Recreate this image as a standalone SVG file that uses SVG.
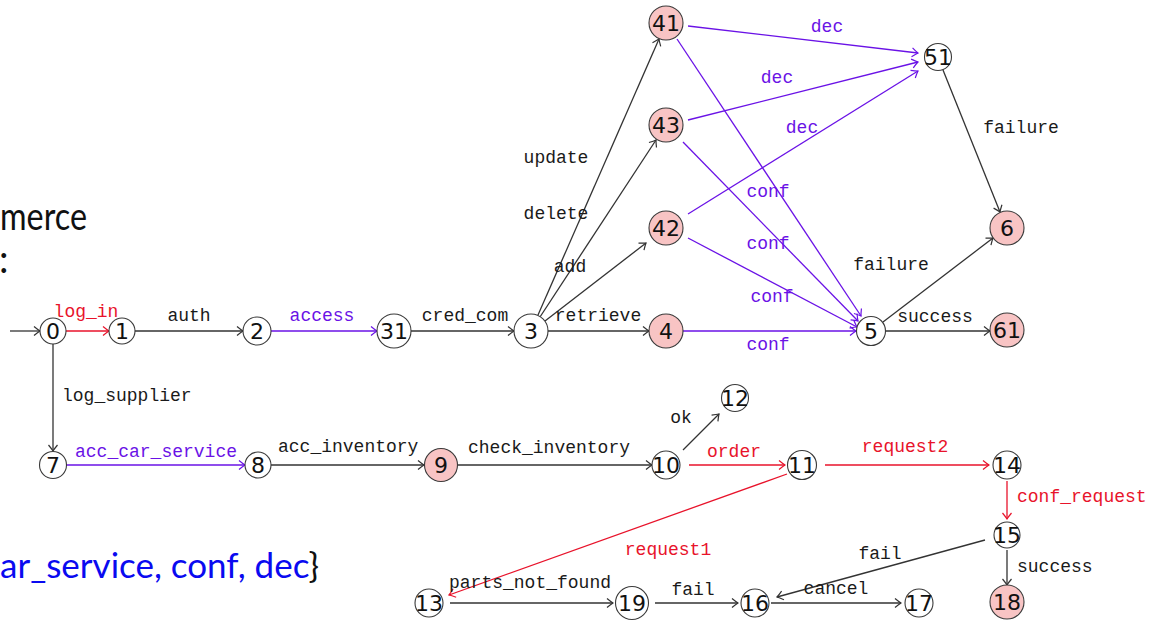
<svg xmlns="http://www.w3.org/2000/svg" width="1151" height="621" viewBox="0 0 1151 621">
<style>
.n{stroke:#3a3a3a;stroke-width:1.1;fill:#fff}
.p{fill:#f8c4c4}
.nt{font-family:"DejaVu Sans",sans-serif;font-size:22px;fill:#111;text-anchor:middle}
.e{fill:none;stroke-width:1.3}
.k{stroke:#333;marker-end:url(#mk)}
.v{stroke:#6a12e6;marker-end:url(#mv)}
.r{stroke:#e8132b;marker-end:url(#mr)}
.l{font-family:"Liberation Mono",monospace;font-size:18px}
.lk{fill:#1a1a1a}
.lv{fill:#6a12e6}
.lr{fill:#e8132b}
.m{text-anchor:middle}
.big{font-family:Lato,"Noto Sans",sans-serif;font-size:38px}
</style>
<defs>
<marker id="mk" viewBox="-7 -6 8 12" refX="0" refY="0" markerWidth="8" markerHeight="12" markerUnits="userSpaceOnUse" orient="auto"><path d="M-6,-4.5 Q-2,-1.2 0,0 Q-2,1.2 -6,4.5" fill="none" stroke="#333" stroke-width="1.2"/></marker>
<marker id="mv" viewBox="-7 -6 8 12" refX="0" refY="0" markerWidth="8" markerHeight="12" markerUnits="userSpaceOnUse" orient="auto"><path d="M-6,-4.5 Q-2,-1.2 0,0 Q-2,1.2 -6,4.5" fill="none" stroke="#6a12e6" stroke-width="1.2"/></marker>
<marker id="mr" viewBox="-7 -6 8 12" refX="0" refY="0" markerWidth="8" markerHeight="12" markerUnits="userSpaceOnUse" orient="auto"><path d="M-6,-4.5 Q-2,-1.2 0,0 Q-2,1.2 -6,4.5" fill="none" stroke="#e8132b" stroke-width="1.2"/></marker>
</defs>
<rect width="1151" height="621" fill="#fff"/>

<g id="side-text">
<text class="big" x="0" y="230" fill="#111" textLength="87" lengthAdjust="spacingAndGlyphs">merce</text>
<text class="big" x="-1" y="273" fill="#111">:</text>
<text class="big" x="0" y="578" style="font-size:35px"><tspan fill="#0a0af0">ar_service, conf, dec</tspan><tspan fill="#111">}</tspan></text>
</g>

<g id="connectors">
<line class="e k" x1="10" y1="331" x2="40" y2="331"/>
<line class="e r" x1="66" y1="331" x2="109" y2="331"/>
<line class="e k" x1="135" y1="331" x2="243" y2="331"/>
<line class="e v" x1="271" y1="331" x2="377" y2="331"/>
<line class="e k" x1="411" y1="331" x2="514" y2="331"/>
<line class="e k" x1="548" y1="331" x2="649" y2="331"/>
<line class="e v" x1="683" y1="331" x2="856" y2="331"/>
<line class="e k" x1="886" y1="331" x2="990" y2="331"/>
<line class="e k" x1="883" y1="322" x2="993" y2="238"/>
<line class="e k" x1="943" y1="70" x2="1000" y2="212"/>
<line class="e k" x1="538" y1="315" x2="659" y2="39"/>
<line class="e k" x1="540" y1="317" x2="656" y2="140"/>
<line class="e k" x1="545" y1="321" x2="646" y2="243"/>
<line class="e v" x1="688" y1="26" x2="918" y2="53"/>
<line class="e v" x1="688" y1="120" x2="918" y2="62"/>
<line class="e v" x1="688" y1="214" x2="918" y2="71"/>
<line class="e v" x1="677" y1="39" x2="861" y2="316"/>
<line class="e v" x1="683" y1="142" x2="858" y2="321"/>
<line class="e v" x1="688" y1="238" x2="857" y2="327"/>
<line class="e k" x1="53" y1="344" x2="53" y2="451"/>
<line class="e v" x1="67" y1="465" x2="245" y2="465"/>
<line class="e k" x1="271" y1="465" x2="424" y2="465"/>
<line class="e k" x1="458" y1="465" x2="652" y2="465"/>
<line class="e k" x1="683" y1="450" x2="719" y2="414"/>
<line class="e r" x1="689" y1="465" x2="785" y2="465"/>
<line class="e r" x1="825" y1="465" x2="989" y2="465"/>
<line class="e r" x1="1007" y1="481" x2="1007" y2="519"/>
<line class="e k" x1="1007" y1="550" x2="1007" y2="585"/>
<line class="e k" x1="985" y1="540" x2="777" y2="597"/>
<line class="e r" x1="787" y1="474" x2="449" y2="595"/>
<line class="e k" x1="450" y1="603" x2="613" y2="603"/>
<line class="e k" x1="655" y1="603" x2="738" y2="603"/>
<line class="e k" x1="771" y1="603" x2="901" y2="603"/>
</g>

<g id="labels">
<text class="l lr m" x="86" y="317">log_in</text>
<text class="l lk m" x="189" y="321">auth</text>
<text class="l lv m" x="322" y="321">access</text>
<text class="l lk m" x="465" y="321">cred_com</text>
<text class="l lk m" x="598" y="321">retrieve</text>
<text class="l lv m" x="768" y="350">conf</text>
<text class="l lv m" x="772" y="302">conf</text>
<text class="l lv m" x="768" y="249">conf</text>
<text class="l lv m" x="768" y="197">conf</text>
<text class="l lk m" x="570" y="272">add</text>
<text class="l lk m" x="556" y="219">delete</text>
<text class="l lk m" x="556" y="163">update</text>
<text class="l lv m" x="827" y="32">dec</text>
<text class="l lv m" x="777" y="83">dec</text>
<text class="l lv m" x="802" y="133">dec</text>
<text class="l lk m" x="1021" y="133">failure</text>
<text class="l lk m" x="891" y="270">failure</text>
<text class="l lk m" x="935" y="322">success</text>
<text class="l lk" x="62" y="401">log_supplier</text>
<text class="l lv" x="75" y="457">acc_car_service</text>
<text class="l lk" x="278" y="452">acc_inventory</text>
<text class="l lk" x="468" y="453">check_inventory</text>
<text class="l lk m" x="681" y="423">ok</text>
<text class="l lr m" x="734" y="457">order</text>
<text class="l lr m" x="905" y="452">request2</text>
<text class="l lr" x="1017" y="502">conf_request</text>
<text class="l lk" x="1017" y="572">success</text>
<text class="l lk m" x="880" y="559">fail</text>
<text class="l lk m" x="836" y="594">cancel</text>
<text class="l lr m" x="668" y="555">request1</text>
<text class="l lk" x="449" y="588">parts_not_found</text>
<text class="l lk m" x="693" y="595">fail</text>
</g>

<g id="n0"><circle class="n" cx="53" cy="331" r="13"/><text class="nt" x="53" y="339">0</text></g>
<g id="n1"><circle class="n" cx="122" cy="331" r="13"/><text class="nt" x="122" y="339">1</text></g>
<g id="n2"><circle class="n" cx="257" cy="331" r="14"/><text class="nt" x="257" y="339">2</text></g>
<g id="n31"><circle class="n" cx="394" cy="331" r="17"/><text class="nt" x="394" y="339">31</text></g>
<g id="n3"><circle class="n" cx="531" cy="331" r="17"/><text class="nt" x="531" y="339">3</text></g>
<g id="n4"><circle class="n p" cx="666" cy="331" r="17"/><text class="nt" x="666" y="339">4</text></g>
<g id="n5"><circle class="n" cx="871" cy="331" r="14.5"/><text class="nt" x="871" y="339">5</text></g>
<g id="n61"><circle class="n p" cx="1007" cy="330" r="17"/><text class="nt" x="1007" y="338">61</text></g>
<g id="n6"><circle class="n p" cx="1007" cy="228" r="17"/><text class="nt" x="1007" y="236">6</text></g>
<g id="n51"><circle class="n" cx="938" cy="57" r="13.5"/><text class="nt" x="938" y="65">51</text></g>
<g id="n41"><circle class="n p" cx="666" cy="23" r="17"/><text class="nt" x="666" y="31">41</text></g>
<g id="n43"><circle class="n p" cx="666" cy="125" r="17"/><text class="nt" x="666" y="133">43</text></g>
<g id="n42"><circle class="n p" cx="666" cy="228" r="17"/><text class="nt" x="666" y="236">42</text></g>
<g id="n7"><circle class="n" cx="53" cy="465" r="13.5"/><text class="nt" x="53" y="473">7</text></g>
<g id="n8"><circle class="n" cx="258" cy="465" r="13"/><text class="nt" x="258" y="473">8</text></g>
<g id="n9"><circle class="n p" cx="441" cy="465" r="16.5"/><text class="nt" x="441" y="473">9</text></g>
<g id="n10"><circle class="n" cx="666" cy="465" r="14"/><text class="nt" x="666" y="473">10</text></g>
<g id="n12"><circle class="n" cx="735" cy="398" r="13.5"/><text class="nt" x="735" y="406">12</text></g>
<g id="n11"><circle class="n" cx="802" cy="465" r="14.5"/><text class="nt" x="802" y="473">11</text></g>
<g id="n14"><circle class="n" cx="1007" cy="465" r="14"/><text class="nt" x="1007" y="473">14</text></g>
<g id="n15"><circle class="n" cx="1007" cy="535" r="13"/><text class="nt" x="1007" y="543">15</text></g>
<g id="n18"><circle class="n p" cx="1007" cy="602" r="17"/><text class="nt" x="1007" y="610">18</text></g>
<g id="n13"><circle class="n" cx="429" cy="603" r="14"/><text class="nt" x="429" y="611">13</text></g>
<g id="n19"><circle class="n" cx="632" cy="603" r="16.5"/><text class="nt" x="632" y="611">19</text></g>
<g id="n16"><circle class="n" cx="755" cy="603" r="14"/><text class="nt" x="755" y="611">16</text></g>
<g id="n17"><circle class="n" cx="919" cy="603" r="14"/><text class="nt" x="919" y="611">17</text></g>
</svg>
